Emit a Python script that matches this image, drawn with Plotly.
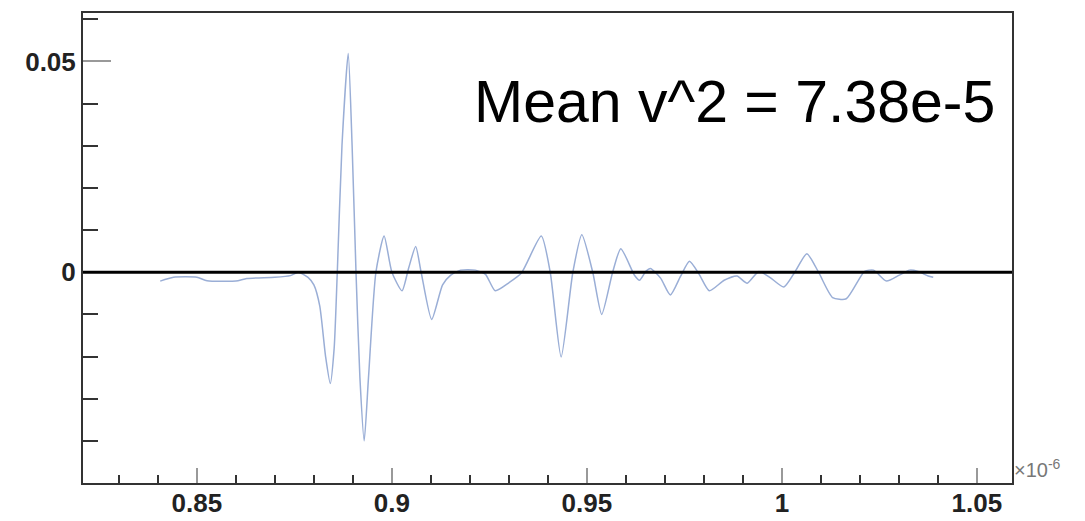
import plotly.graph_objects as go

# time in units of 1e-6 s
t_us = [0.8406, 0.8440, 0.8500, 0.8526, 0.8600, 0.8628, 0.8700, 0.8740, 0.8760, 0.8785,
        0.8800, 0.8815, 0.8830, 0.8842, 0.8852, 0.8860, 0.8872, 0.8888, 0.8898, 0.8908,
        0.8918, 0.8929, 0.8940, 0.8959, 0.8980, 0.9000, 0.9026, 0.9043, 0.9061, 0.9075,
        0.9102, 0.9130, 0.9151, 0.9176, 0.9214, 0.9240, 0.9265, 0.9300, 0.9332, 0.9383,
        0.9406, 0.9434, 0.9464, 0.9487, 0.9515, 0.9538, 0.9566, 0.9587, 0.9622, 0.9635,
        0.9651, 0.9663, 0.9689, 0.9714, 0.9740, 0.9763, 0.9788, 0.9814, 0.9852, 0.9885,
        0.9911, 0.9941, 0.9969, 1.0005, 1.0033, 1.0064, 1.0094, 1.0130, 1.0165, 1.0212,
        1.0235, 1.0268, 1.0301, 1.0327, 1.0349, 1.0375, 1.0388]
signal = [-0.0021, -0.0012, -0.0012, -0.0020, -0.0021, -0.0015, -0.0012, -0.0008, 0.0000, -0.0012,
          -0.0030, -0.0080, -0.0200, -0.0264, -0.0180, 0.0000, 0.0300, 0.0519, 0.0300, 0.0000,
          -0.0250, -0.0400, -0.0250, 0.0000, 0.0086, 0.0000, -0.0044, 0.0010, 0.0061, 0.0000,
          -0.0112, -0.0030, -0.0007, 0.0005, 0.0005, -0.0005, -0.0044, -0.0025, -0.0002, 0.0086,
          0.0000, -0.0201, 0.0000, 0.0089, 0.0000, -0.0100, 0.0000, 0.0056, -0.0007, -0.0019,
          0.0002, 0.0009, -0.0014, -0.0054, -0.0010, 0.0026, -0.0005, -0.0044, -0.0019, -0.0009,
          -0.0026, 0.0002, -0.0012, -0.0035, 0.0000, 0.0044, 0.0000, -0.0060, -0.0063, 0.0002,
          0.0005, -0.0021, -0.0007, 0.0005, 0.0002, -0.0009, -0.0012]

y_tickvals = [0, 0.05]
y_ticktext = ["0", "0.05"]
x_tickvals = [0.85, 0.9, 0.95, 1.0, 1.05]
x_ticktext = ["0.85", "0.9", "0.95", "1", "1.05"]
label_text = "Mean v^2 = 7.38e-5"

fig = go.Figure()
fig.add_trace(go.Scatter(x=t_us, y=signal, mode="lines",
                         line=dict(color="#9aaed6", width=1.5, shape="spline", smoothing=0.6),
                         showlegend=False, hoverinfo="skip"))

fig.add_hline(y=0, line=dict(color="black", width=3), layer="above")

tickfont = dict(family="Liberation Sans, Arial, sans-serif", size=26, color="#222", weight="bold")

fig.update_layout(
    width=1077, height=513,
    margin=dict(l=75, r=73, t=3, b=33),
    paper_bgcolor="white", plot_bgcolor="white",
    xaxis=dict(range=[0.8208, 1.0590], tickvals=x_tickvals, ticktext=x_ticktext,
               ticks="inside", ticklen=15, tickwidth=2, tickcolor="#999",
               minor=dict(dtick=0.01, tick0=0.85, ticks="inside", ticklen=8, tickwidth=2, tickcolor="#333"),
               showline=True, linecolor="#333", linewidth=2, mirror=True,
               ticklabelstandoff=-4,
               showgrid=False, zeroline=False, tickfont=tickfont),
    yaxis=dict(range=[-0.05, 0.0615], tickvals=y_tickvals, ticktext=y_ticktext,
               ticks="inside", ticklen=28, tickwidth=2, tickcolor="#999",
               minor=dict(dtick=0.01, tick0=0, ticks="inside", ticklen=15, tickwidth=2, tickcolor="#333"),
               showline=True, linecolor="#333", linewidth=2, mirror=True,
               showgrid=False, zeroline=False, tickfont=tickfont),
    annotations=[
        dict(text=label_text, xref="paper", yref="paper", x=0.984, y=0.81,
             xanchor="right", yanchor="middle", showarrow=False,
             font=dict(family="Liberation Sans, Arial, sans-serif", size=59, color="black")),
        dict(text="\u00d710<sup>-6</sup>", xref="paper", yref="paper", x=1.0, y=0.0,
             xanchor="left", yanchor="bottom", showarrow=False,
             font=dict(family="Liberation Sans, Arial, sans-serif", size=20, color="#777")),
    ],
)

fig.write_html("out.html")
